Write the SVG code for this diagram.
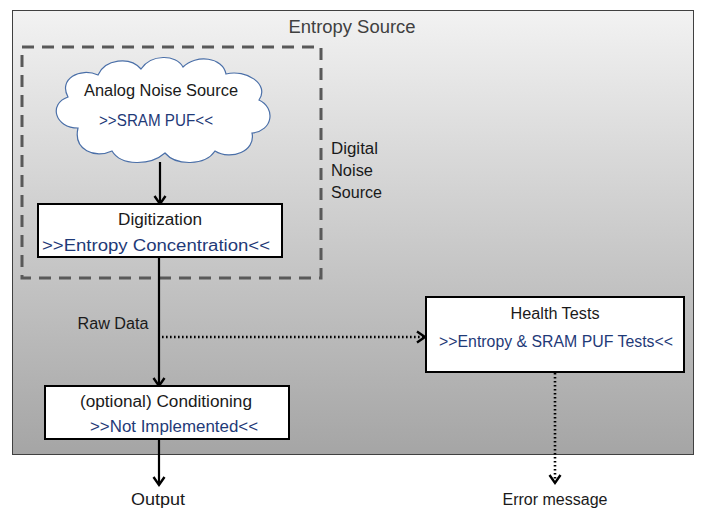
<svg xmlns="http://www.w3.org/2000/svg" width="702" height="508" viewBox="0 0 702 508">
<style>
text{font-family:"Liberation Sans",Arial,sans-serif;font-size:16px;text-anchor:middle}
.lbl{fill:#1a1a1a}
.sub{fill:#1f3a78}
.box{fill:#fff;stroke:#000;stroke-width:2}
.solid{stroke:#000;stroke-width:2.2;fill:none}
.dot{stroke:#000;stroke-width:2.6;fill:none;stroke-dasharray:1.6 2.4}
</style>
<defs>
<linearGradient id="bg" x1="0" y1="0" x2="0" y2="1">
<stop offset="0" stop-color="#f2f2f2"/>
<stop offset="1" stop-color="#a5a5a5"/>
</linearGradient>
<marker id="ah" markerUnits="userSpaceOnUse" markerWidth="14" markerHeight="14" viewBox="0 0 14 14" refX="11" refY="7" orient="auto">
<path d="M3,1.5 L11,7 L3,12.5" fill="none" stroke="#000" stroke-width="2.4"/>
</marker>
</defs>
<g id="entropy-source">
<rect x="12.5" y="10.5" width="681" height="444" fill="url(#bg)" stroke="#404040" stroke-width="1"/>
<text x="352" y="33" style="font-size:18px;fill:#404040" textLength="127" lengthAdjust="spacingAndGlyphs">Entropy Source</text>
</g>
<g id="digital-noise-source">
<rect x="22" y="47" width="299" height="231" fill="none" stroke="#595959" stroke-width="3" stroke-dasharray="12 8"/>
<text x="331" y="154" class="lbl" style="text-anchor:start" textLength="47" lengthAdjust="spacingAndGlyphs">Digital</text>
<text x="331" y="176" class="lbl" style="text-anchor:start" textLength="42" lengthAdjust="spacingAndGlyphs">Noise</text>
<text x="331" y="198" class="lbl" style="text-anchor:start" textLength="51" lengthAdjust="spacingAndGlyphs">Source</text>
</g>
<g id="connectors">
<line x1="160" y1="162" x2="160" y2="204" class="solid" marker-end="url(#ah)"/>
<line x1="159" y1="257" x2="159" y2="386" class="solid" marker-end="url(#ah)"/>
<line x1="159" y1="439" x2="159" y2="485" class="solid" marker-end="url(#ah)"/>
<line x1="162" y1="337" x2="425" y2="337" class="dot" marker-end="url(#ah)"/>
<line x1="555" y1="373" x2="555" y2="483" class="dot" marker-end="url(#ah)"/>
<text x="113" y="329" class="lbl" textLength="71" lengthAdjust="spacingAndGlyphs">Raw Data</text>
</g>
<g id="analog-noise-source">
<path d="M78 128 C55 128 48 104 68 97 C58 79 80 67 98 75 C105 59 130 56 141 69 C151 54 176 54 183 67 C196 54 223 57 226 74 C246 69 270 84 259 100 C276 108 273 131 252 133 C256 151 231 161 215 151 C205 166 176 166 165 153 C150 166 121 166 112 151 C95 159 73 150 78 128 Z" fill="#fff" stroke="#4a6fa8" stroke-width="1.2"/>
<text x="161" y="96" class="lbl" textLength="154" lengthAdjust="spacingAndGlyphs">Analog Noise Source</text>
<text x="156" y="126" class="sub" textLength="114" lengthAdjust="spacingAndGlyphs">&gt;&gt;SRAM PUF&lt;&lt;</text>
</g>
<g id="digitization">
<rect x="38" y="204" width="244" height="53" class="box"/>
<text x="160" y="225" class="lbl" textLength="84" lengthAdjust="spacingAndGlyphs">Digitization</text>
<text x="156" y="251" class="sub" textLength="228" lengthAdjust="spacingAndGlyphs">&gt;&gt;Entropy Concentration&lt;&lt;</text>
</g>
<g id="conditioning">
<rect x="45" y="386" width="244" height="53" class="box"/>
<text x="166" y="407" class="lbl" textLength="172" lengthAdjust="spacingAndGlyphs">(optional) Conditioning</text>
<text x="174" y="432" class="sub" textLength="168" lengthAdjust="spacingAndGlyphs">&gt;&gt;Not Implemented&lt;&lt;</text>
</g>
<g id="health-tests">
<rect x="426" y="297" width="258" height="75" class="box"/>
<text x="555" y="319" class="lbl" textLength="89" lengthAdjust="spacingAndGlyphs">Health Tests</text>
<text x="556" y="347" class="sub" textLength="234" lengthAdjust="spacingAndGlyphs">&gt;&gt;Entropy &amp; SRAM PUF Tests&lt;&lt;</text>
</g>
<g id="output">
<text x="158" y="505" class="lbl" textLength="54" lengthAdjust="spacingAndGlyphs">Output</text>
</g>
<g id="error-message">
<text x="555" y="505" class="lbl" textLength="105" lengthAdjust="spacingAndGlyphs">Error message</text>
</g>
</svg>
